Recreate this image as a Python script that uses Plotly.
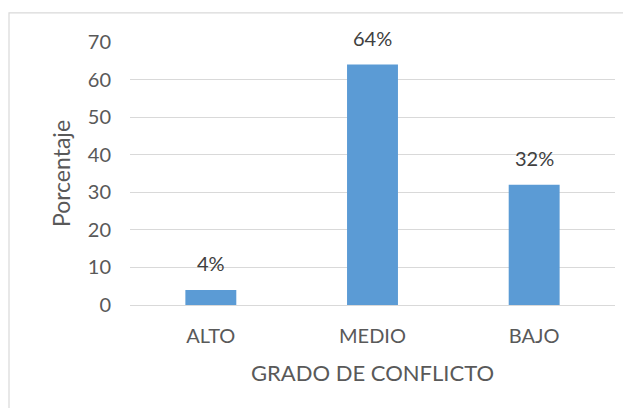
import plotly.graph_objects as go

# -----------------------------
# Data
# -----------------------------
categories = ["ALTO", "MEDIO", "BAJO"]
values = [4, 64, 32]
value_labels = ["4%", "64%", "32%"]
y_ticks = [0, 10, 20, 30, 40, 50, 60, 70]

TEXT_COLOR = "#595959"
GRID_COLOR = "#d9d9d9"
BAR_COLOR = "#5b9bd5"
FONT = "Lato, 'Open Sans', sans-serif"

fig = go.Figure(go.Bar(
    x=categories,
    y=values,
    marker=dict(color=BAR_COLOR, line=dict(width=0)),
    hoverinfo="x+y",
))

# value labels above each bar
for cat, val, lab in zip(categories, values, value_labels):
    fig.add_annotation(
        x=cat, y=val, text=lab, showarrow=False,
        yanchor="middle", yshift=27,
        font=dict(family=FONT, size=20, color="#404040"),
    )

# chart border (Excel style), right/bottom edges run off the page
fig.add_shape(
    type="rect", xref="paper", yref="paper",
    x0=-0.2495, x1=1.1, y0=-0.5, y1=1.111,
    line=dict(color=GRID_COLOR, width=1.2),
    fillcolor="rgba(0,0,0,0)", layer="below",
)

fig.update_yaxes(
    range=[0, 70],
    tickvals=y_ticks,
    showgrid=True, gridcolor=GRID_COLOR, gridwidth=1.3,
    zeroline=True, zerolinecolor=GRID_COLOR, zerolinewidth=1.3,
    showline=False,
    ticks="outside", ticklen=14, tickcolor="rgba(0,0,0,0)",
    tickfont=dict(family=FONT, size=20, color=TEXT_COLOR),
    title=dict(text="Porcentaje", standoff=10,
               font=dict(family=FONT, size=23, color=TEXT_COLOR)),
)
fig.update_xaxes(
    showgrid=False, showline=False,
    ticks="outside", ticklen=13, tickcolor="rgba(0,0,0,0)",
    tickfont=dict(family=FONT, size=20, color=TEXT_COLOR),
    title=dict(text="GRADO DE CONFLICTO", standoff=19,
               font=dict(family=FONT, size=22, color=TEXT_COLOR)),
)

# page body has an 8px margin, so the figure is kept inside the window
fig.update_layout(
    width=615,
    height=400,
    margin=dict(l=122, r=8, t=34, b=103),
    bargap=0.685,
    showlegend=False,
    paper_bgcolor="white",
    plot_bgcolor="white",
)

fig.write_html("out.html")
